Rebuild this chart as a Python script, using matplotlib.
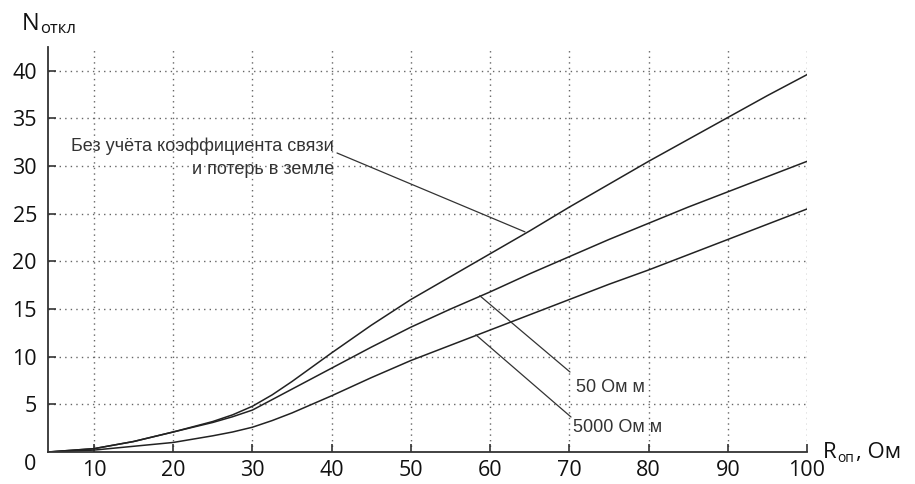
import matplotlib
matplotlib.use("Agg")
import matplotlib.pyplot as plt

# resistance of the support, Ohm
r_op = [4.2, 10, 15, 20, 25, 27.5, 30, 32.5, 35, 37.5, 40, 45, 50, 55, 60, 65, 70, 75, 80, 85, 90, 95, 100]
# number of trips: no coupling / 50 Ohm*m / 5000 Ohm*m
n_ideal = [0, 0.35, 1.1, 2.1, 3.2, 3.9, 4.8, 6.0, 7.4, 8.9, 10.4, 13.3, 16.0, 18.4, 20.8, 23.2, 25.7, 28.1, 30.5, 32.8, 35.1, 37.4, 39.6]
n_50 = [0, 0.35, 1.1, 2.1, 3.1, 3.7, 4.4, 5.5, 6.6, 7.7, 8.8, 11.0, 13.1, 15.0, 16.8, 18.7, 20.5, 22.3, 24.0, 25.7, 27.3, 28.9, 30.5]
n_5000 = [0, 0.2, 0.6, 1.0, 1.7, 2.1, 2.6, 3.3, 4.1, 5.0, 5.9, 7.8, 9.6, 11.2, 12.8, 14.4, 16.0, 17.6, 19.1, 20.7, 22.3, 23.9, 25.5]

x_ticks = [10, 20, 30, 40, 50, 60, 70, 80, 90, 100]
y_ticks = [5, 10, 15, 20, 25, 30, 35, 40]

W, H = 915, 484
fig = plt.figure(figsize=(W / 100, H / 100), dpi=100)
ax = fig.add_axes([48 / W, 1 - 452 / H, (807 - 48) / W, (452 - 47) / H])


def fx(px):
    return px / W


def fy(py):
    return 1 - py / H


line_kw = dict(color="#222222", lw=1.1)
ax.plot(r_op, n_ideal, **line_kw)
ax.plot(r_op, n_50, **line_kw)
ax.plot(r_op, n_5000, **line_kw)

ax.set_xlim(4.2, 100)
ax.set_ylim(0, 42.5)
ax.set_xticks(x_ticks)
ax.set_yticks(y_ticks)
ax.grid(True, color="#666666", lw=1.0, linestyle=(0, (1, 3)))
for s in ("top", "right"):
    ax.spines[s].set_visible(False)
for s in ("left", "bottom"):
    ax.spines[s].set_color("#333333")
    ax.spines[s].set_linewidth(1.3)

tick_font = dict(family="Open Sans", size=15.5)
ax.tick_params(direction="in", length=6, width=1.2, color="#333333")
ax.tick_params(axis="x", pad=6)
ax.tick_params(axis="y", pad=8)
for lab in ax.get_xticklabels() + ax.get_yticklabels():
    lab.set_fontfamily(tick_font["family"])
    lab.set_fontsize(tick_font["size"])
    lab.set_color("#111111")

fig.text(fx(30), fy(465), "0", ha="center", va="center", color="#111111", **tick_font)

# axis captions
fig.text(fx(22), fy(30), "N", ha="left", va="baseline", family="Open Sans", size=17, color="#111111")
fig.text(fx(40), fy(33), "откл", ha="left", va="baseline", family="Open Sans", size=12, color="#111111")
fig.text(fx(823), fy(458), "R", ha="left", va="baseline", family="Open Sans", size=16, color="#111111")
fig.text(fx(837), fy(462), "оп", ha="left", va="baseline", family="Open Sans", size=10, color="#111111")
fig.text(fx(856), fy(458), ", Ом", ha="left", va="baseline", family="Open Sans", size=16, color="#111111")

note_kw = dict(family="Liberation Sans", size=13, color="#333333")
lead_kw = dict(arrowstyle="-", color="#333333", lw=0.9, shrinkA=0, shrinkB=0)

ax.annotate("", xy=(64.4, 23.1), xytext=(fx(337), fy(153)), textcoords="figure fraction",
            arrowprops=lead_kw)
fig.text(fx(334), fy(146), "Без учёта коэффициента связи", ha="right", va="center", **note_kw)
fig.text(fx(334), fy(170), "и потерь в земле", ha="right", va="center", **note_kw)

ax.annotate("", xy=(58.7, 16.4), xytext=(fx(570), fy(372)), textcoords="figure fraction",
            arrowprops=lead_kw)
fig.text(fx(576), fy(388), "50 Ом м", ha="left", va="center", **note_kw)

ax.annotate("", xy=(58.2, 12.3), xytext=(fx(571), fy(417)), textcoords="figure fraction",
            arrowprops=lead_kw)
fig.text(fx(573), fy(428), "5000 Ом м", ha="left", va="center", **note_kw)

fig.savefig("out.png", dpi=100)
